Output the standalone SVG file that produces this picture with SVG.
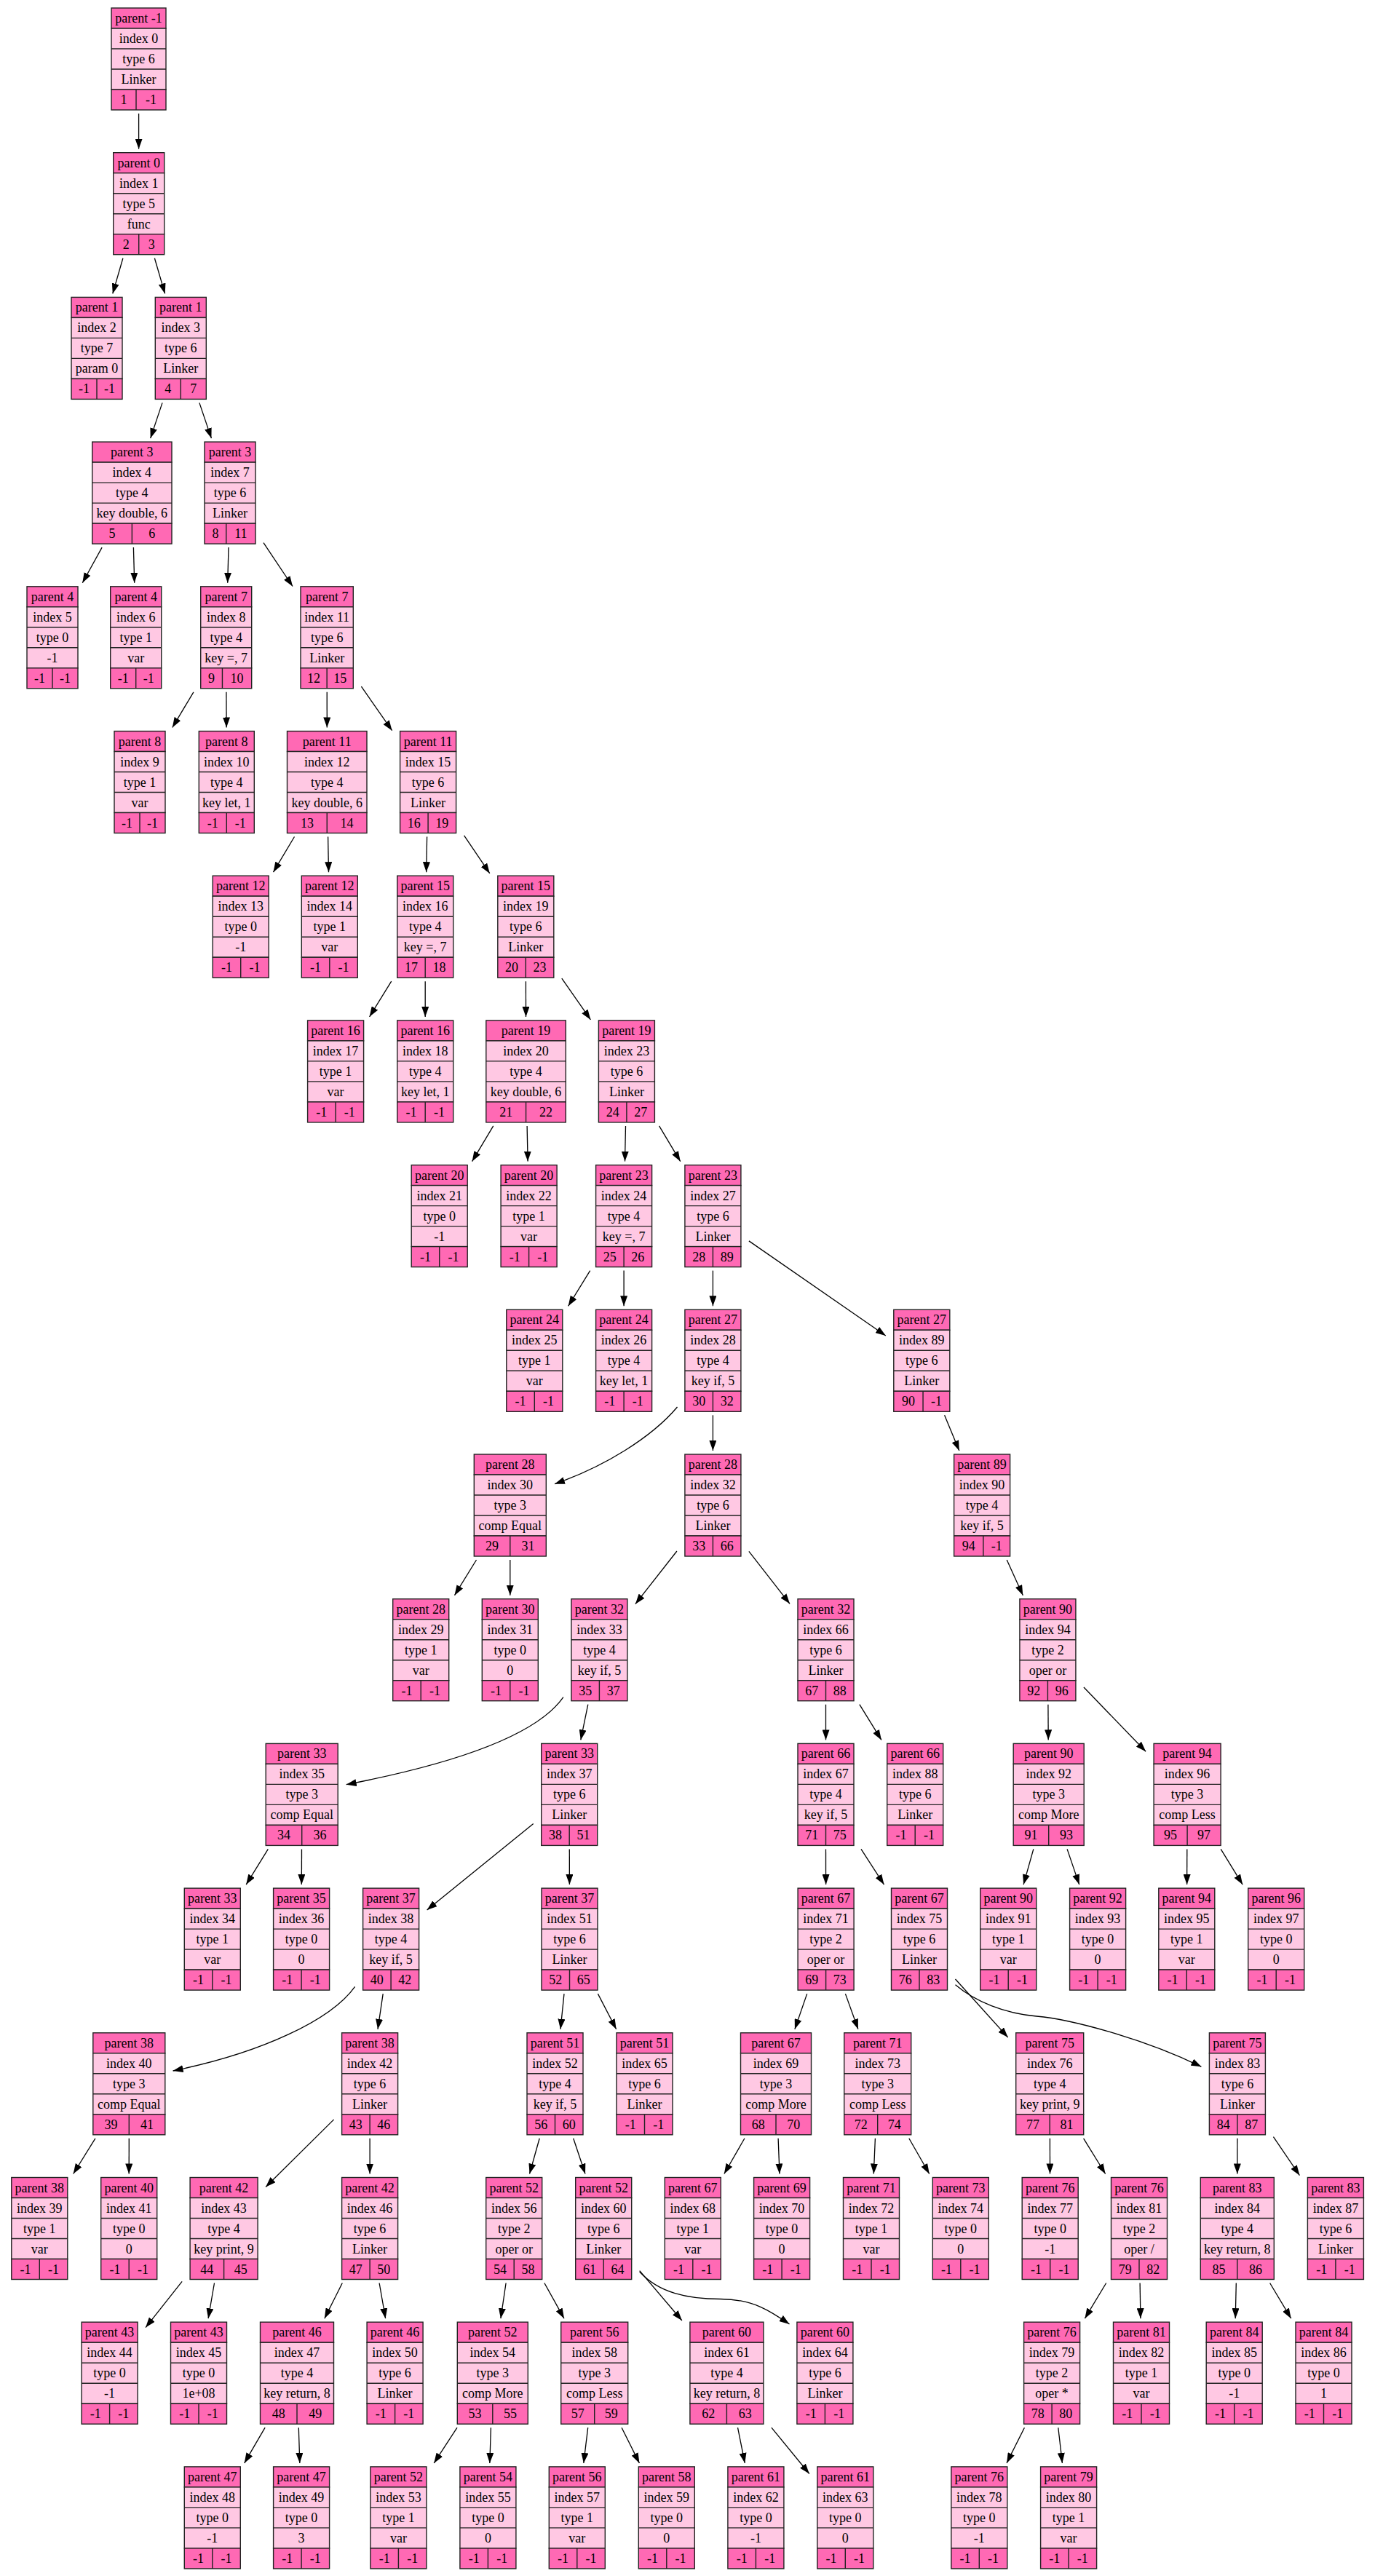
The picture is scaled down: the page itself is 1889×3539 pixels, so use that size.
<svg xmlns="http://www.w3.org/2000/svg" xmlns:xlink="http://www.w3.org/1999/xlink" width="1889" height="3539" viewBox="0 0 1889 3539">
<style>
.h{fill:#ff69b4;stroke:#222;stroke-width:1.4}
.m{fill:#ffc8e3;stroke:#222;stroke-width:1.4}
.s{fill:none;stroke:#222;stroke-width:1.4}
text{font-family:"Liberation Serif","Times New Roman",serif;font-size:18px;text-anchor:middle;fill:#000}
#edges path{fill:none;stroke:#000;stroke-width:1.3}
</style>
<defs>
<marker id="ah" viewBox="0 0 14 10" markerWidth="14" markerHeight="10" markerUnits="userSpaceOnUse" refX="14" refY="5" orient="auto"><path d="M0 0L14 5L0 10z" fill="#000"/></marker>
<!-- record frames: header, three body rows, split footer -->
<g id="f77"><rect class="h" width="77" height="28"/><rect class="m" y="28" width="77" height="84"/><rect class="h" y="112" width="77" height="28"/><path class="s" d="M0 56H77M0 84H77M38.5 112V140"/></g>
<g id="f77b"><rect class="h" width="77" height="28"/><rect class="m" y="28" width="77" height="84"/><rect class="h" y="112" width="77" height="28"/><path class="s" d="M0 56H77M0 84H77M40.25 112V140"/></g>
<g id="f70"><rect class="h" width="70" height="28"/><rect class="m" y="28" width="70" height="84"/><rect class="h" y="112" width="70" height="28"/><path class="s" d="M0 56H70M0 84H70M35 112V140"/></g>
<g id="f70b"><rect class="h" width="70" height="28"/><rect class="m" y="28" width="70" height="84"/><rect class="h" y="112" width="70" height="28"/><path class="s" d="M0 56H70M0 84H70M29.75 112V140"/></g>
<g id="f75"><rect class="h" width="75" height="28"/><rect class="m" y="28" width="75" height="84"/><rect class="h" y="112" width="75" height="28"/><path class="s" d="M0 56H75M0 84H75M34 112V140"/></g>
<g id="f723"><rect class="h" width="72.3" height="28"/><rect class="m" y="28" width="72.3" height="84"/><rect class="h" y="112" width="72.3" height="28"/><path class="s" d="M0 56H72.3M0 84H72.3M36.15 112V140"/></g>
<g id="f76"><rect class="h" width="76" height="28"/><rect class="m" y="28" width="76" height="84"/><rect class="h" y="112" width="76" height="28"/><path class="s" d="M0 56H76M0 84H76M38 112V140"/></g>
<g id="f1093"><rect class="h" width="109.3" height="28"/><rect class="m" y="28" width="109.3" height="84"/><rect class="h" y="112" width="109.3" height="28"/><path class="s" d="M0 56H109.3M0 84H109.3M54.65 112V140"/></g>
<g id="f1095"><rect class="h" width="109.5" height="28"/><rect class="m" y="28" width="109.5" height="84"/><rect class="h" y="112" width="109.5" height="28"/><path class="s" d="M0 56H109.5M0 84H109.5M54.75 112V140"/></g>
<g id="f99"><rect class="h" width="99" height="28"/><rect class="m" y="28" width="99" height="84"/><rect class="h" y="112" width="99" height="28"/><path class="s" d="M0 56H99M0 84H99M49.5 112V140"/></g>
<g id="f97"><rect class="h" width="97" height="28"/><rect class="m" y="28" width="97" height="84"/><rect class="h" y="112" width="97" height="28"/><path class="s" d="M0 56H97M0 84H97M48.5 112V140"/></g>
<g id="f92"><rect class="h" width="92" height="28"/><rect class="m" y="28" width="92" height="84"/><rect class="h" y="112" width="92" height="28"/><path class="s" d="M0 56H92M0 84H92M46 112V140"/></g>
<g id="f93"><rect class="h" width="93" height="28"/><rect class="m" y="28" width="93" height="84"/><rect class="h" y="112" width="93" height="28"/><path class="s" d="M0 56H93M0 84H93M46.5 112V140"/></g>
<g id="f101"><rect class="h" width="101" height="28"/><rect class="m" y="28" width="101" height="84"/><rect class="h" y="112" width="101" height="28"/><path class="s" d="M0 56H101M0 84H101M50.5 112V140"/></g>
</defs>
<rect width="1889" height="3539" fill="#fff"/>

<g id="edges">
<path marker-end="url(#ah)" d="M190.6 156L190.6 204.7"/>
<path marker-end="url(#ah)" d="M168.9 354.7L154.8 403.4"/>
<path marker-end="url(#ah)" d="M212.4 354.7L226.6 403.4"/>
<path marker-end="url(#ah)" d="M223 553.4L206.7 602.1"/>
<path marker-end="url(#ah)" d="M273.9 553.4L290.4 602.1"/>
<path marker-end="url(#ah)" d="M140.1 752.1L113.3 800.8"/>
<path marker-end="url(#ah)" d="M183.4 752.1L184.7 800.8"/>
<path marker-end="url(#ah)" d="M314 752.1L312.7 800.8"/>
<path marker-end="url(#ah)" d="M362 745.7L402 805.5"/>
<path marker-end="url(#ah)" d="M265.9 950.8L236.8 999.5"/>
<path marker-end="url(#ah)" d="M310.9 950.8L311.1 999.5"/>
<path marker-end="url(#ah)" d="M449.2 950.8L449.3 999.5"/>
<path marker-end="url(#ah)" d="M496.4 943.2L538.6 1003.7"/>
<path marker-end="url(#ah)" d="M404.5 1149.5L375.5 1198.2"/>
<path marker-end="url(#ah)" d="M450.6 1149.5L451.5 1198.2"/>
<path marker-end="url(#ah)" d="M586.6 1149.5L585.7 1198.2"/>
<path marker-end="url(#ah)" d="M637.6 1147.8L672.8 1199.9"/>
<path marker-end="url(#ah)" d="M537.7 1348.2L507.6 1396.9"/>
<path marker-end="url(#ah)" d="M584.2 1348.2L584.2 1396.9"/>
<path marker-end="url(#ah)" d="M722.4 1348.2L722.5 1396.9"/>
<path marker-end="url(#ah)" d="M771.8 1344.2L811.4 1400.9"/>
<path marker-end="url(#ah)" d="M677.7 1546.9L648.6 1595.6"/>
<path marker-end="url(#ah)" d="M724.1 1546.9L725.1 1595.6"/>
<path marker-end="url(#ah)" d="M859.5 1546.9L858.5 1595.6"/>
<path marker-end="url(#ah)" d="M905.6 1546.9L934.7 1595.6"/>
<path marker-end="url(#ah)" d="M810.7 1745.6L780.7 1794.3"/>
<path marker-end="url(#ah)" d="M857.1 1745.6L857.1 1794.3"/>
<path marker-end="url(#ah)" d="M979.4 1745.6L979.4 1794.3"/>
<path marker-end="url(#ah)" d="M1028.9 1704.9L1216.8 1835"/>
<path marker-end="url(#ah)" d="M930.5 1933C895 1975 830 2015 762 2038.7"/>
<path marker-end="url(#ah)" d="M979.4 1944.3L979.4 1993"/>
<path marker-end="url(#ah)" d="M1297.6 1944.3L1317.8 1993"/>
<path marker-end="url(#ah)" d="M654.5 2143L624.5 2191.7"/>
<path marker-end="url(#ah)" d="M700.8 2143L700.8 2191.7"/>
<path marker-end="url(#ah)" d="M929.9 2131L872.9 2203.7"/>
<path marker-end="url(#ah)" d="M1028.9 2131.4L1085 2203.3"/>
<path marker-end="url(#ah)" d="M1383.2 2143L1405.3 2191.7"/>
<path marker-end="url(#ah)" d="M773.9 2331.7C740 2380 640 2420 475.7 2451.7"/>
<path marker-end="url(#ah)" d="M807.8 2341.7L797.8 2390.4"/>
<path marker-end="url(#ah)" d="M1134.5 2341.7L1134.5 2390.4"/>
<path marker-end="url(#ah)" d="M1180.8 2341.7L1210.9 2390.4"/>
<path marker-end="url(#ah)" d="M1439.9 2341.7L1440.2 2390.4"/>
<path marker-end="url(#ah)" d="M1488.9 2318L1574.1 2406.3"/>
<path marker-end="url(#ah)" d="M368.3 2540.4L338.2 2589.1"/>
<path marker-end="url(#ah)" d="M414.5 2540.4L414.3 2589.1"/>
<path marker-end="url(#ah)" d="M732.7 2505.5L586.6 2624"/>
<path marker-end="url(#ah)" d="M782.3 2540.4L782.4 2589.1"/>
<path marker-end="url(#ah)" d="M1134.5 2540.4L1134.6 2589.1"/>
<path marker-end="url(#ah)" d="M1183 2540.4L1214.5 2589.1"/>
<path marker-end="url(#ah)" d="M1419.8 2540.4L1406.1 2589.1"/>
<path marker-end="url(#ah)" d="M1466.1 2540.4L1482.7 2589.1"/>
<path marker-end="url(#ah)" d="M1630.8 2540.4L1630.6 2589.1"/>
<path marker-end="url(#ah)" d="M1677.2 2540.4L1707.1 2589.1"/>
<path marker-end="url(#ah)" d="M487.6 2729.3C455 2775 360 2820 237.6 2845"/>
<path marker-end="url(#ah)" d="M526.2 2739.1L519 2787.8"/>
<path marker-end="url(#ah)" d="M775 2739.1L770 2787.8"/>
<path marker-end="url(#ah)" d="M821.4 2739.1L846.6 2787.8"/>
<path marker-end="url(#ah)" d="M1108.7 2739.1L1091.9 2787.8"/>
<path marker-end="url(#ah)" d="M1161.4 2739.1L1178.9 2787.8"/>
<path marker-end="url(#ah)" d="M1312.5 2719L1384.7 2799"/>
<path marker-end="url(#ah)" d="M1312.5 2726.7C1340 2750 1380 2766 1424 2770C1470 2774 1570 2800 1650.4 2839.3"/>
<path marker-end="url(#ah)" d="M130.9 2937.8L100.7 2986.5"/>
<path marker-end="url(#ah)" d="M177.3 2937.8L177.2 2986.5"/>
<path marker-end="url(#ah)" d="M458.6 2911.9L365.1 3004.5"/>
<path marker-end="url(#ah)" d="M508.1 2937.8L508.1 2986.5"/>
<path marker-end="url(#ah)" d="M741.2 2937.8L727.5 2986.5"/>
<path marker-end="url(#ah)" d="M787.7 2937.8L804 2986.5"/>
<path marker-end="url(#ah)" d="M1022.9 2937.8L994.9 2986.5"/>
<path marker-end="url(#ah)" d="M1069.1 2937.8L1071 2986.5"/>
<path marker-end="url(#ah)" d="M1202.4 2937.8L1200.3 2986.5"/>
<path marker-end="url(#ah)" d="M1248.8 2937.8L1276.7 2986.5"/>
<path marker-end="url(#ah)" d="M1442.4 2937.8L1442.5 2986.5"/>
<path marker-end="url(#ah)" d="M1488.6 2937.8L1518.6 2986.5"/>
<path marker-end="url(#ah)" d="M1699.9 2937.8L1699.8 2986.5"/>
<path marker-end="url(#ah)" d="M1749.4 2935.7L1785.4 2988.6"/>
<path marker-end="url(#ah)" d="M250.1 3134.3L200.1 3197.6"/>
<path marker-end="url(#ah)" d="M294.5 3136.5L286.1 3185.2"/>
<path marker-end="url(#ah)" d="M470.3 3136.5L445.8 3185.2"/>
<path marker-end="url(#ah)" d="M521.1 3136.5L529.6 3185.2"/>
<path marker-end="url(#ah)" d="M695.1 3136.5L687.9 3185.2"/>
<path marker-end="url(#ah)" d="M747.9 3136.5L775 3185.2"/>
<path marker-end="url(#ah)" d="M878.7 3119.6L936.9 3188"/>
<path marker-end="url(#ah)" d="M878.7 3121C905 3150 945 3158.5 990 3158.5C1035 3158.5 1060 3176 1084.5 3193"/>
<path marker-end="url(#ah)" d="M1519.7 3136.5L1490.4 3185.2"/>
<path marker-end="url(#ah)" d="M1566.1 3136.5L1566.9 3185.2"/>
<path marker-end="url(#ah)" d="M1698.3 3136.5L1697.2 3185.2"/>
<path marker-end="url(#ah)" d="M1744.6 3136.5L1773.7 3185.2"/>
<path marker-end="url(#ah)" d="M364.1 3335.2L335.7 3383.9"/>
<path marker-end="url(#ah)" d="M410.3 3335.2L411.8 3383.9"/>
<path marker-end="url(#ah)" d="M628 3335.2L596.2 3383.9"/>
<path marker-end="url(#ah)" d="M674.4 3335.2L672.8 3383.9"/>
<path marker-end="url(#ah)" d="M807.7 3335.2L801.8 3383.9"/>
<path marker-end="url(#ah)" d="M854.1 3335.2L878.4 3383.9"/>
<path marker-end="url(#ah)" d="M1013.5 3335.2L1023.3 3383.9"/>
<path marker-end="url(#ah)" d="M1059.9 3335.2L1111.8 3398.5"/>
<path marker-end="url(#ah)" d="M1407.4 3335.2L1383 3383.9"/>
<path marker-end="url(#ah)" d="M1453.8 3335.2L1459.4 3383.9"/>
</g>

<g id="nodes">
<g id="n0" transform="translate(153 11)"><use href="#f75"/><text x="37.5" y="20">parent -1</text><text x="37.5" y="48">index 0</text><text x="37.5" y="76">type 6</text><text x="37.5" y="104">Linker</text><text x="17" y="132">1</text><text x="54.5" y="132">-1</text></g>
<g id="n1" transform="translate(155.7 209.7)"><use href="#f70"/><text x="35" y="20">parent 0</text><text x="35" y="48">index 1</text><text x="35" y="76">type 5</text><text x="35" y="104">func</text><text x="17.5" y="132">2</text><text x="52.5" y="132">3</text></g>
<g id="n2" transform="translate(98 408.4)"><use href="#f70"/><text x="35" y="20">parent 1</text><text x="35" y="48">index 2</text><text x="35" y="76">type 7</text><text x="35" y="104">param 0</text><text x="17.5" y="132">-1</text><text x="52.5" y="132">-1</text></g>
<g id="n3" transform="translate(213.3 408.4)"><use href="#f70"/><text x="35" y="20">parent 1</text><text x="35" y="48">index 3</text><text x="35" y="76">type 6</text><text x="35" y="104">Linker</text><text x="17.5" y="132">4</text><text x="52.5" y="132">7</text></g>
<g id="n4" transform="translate(126.7 607.1)"><use href="#f1093"/><text x="54.65" y="20">parent 3</text><text x="54.65" y="48">index 4</text><text x="54.65" y="76">type 4</text><text x="54.65" y="104">key double, 6</text><text x="27.3" y="132">5</text><text x="82" y="132">6</text></g>
<g id="n7" transform="translate(281 607.1)"><use href="#f70b"/><text x="35" y="20">parent 3</text><text x="35" y="48">index 7</text><text x="35" y="76">type 6</text><text x="35" y="104">Linker</text><text x="14.9" y="132">8</text><text x="49.9" y="132">11</text></g>
<g id="n5" transform="translate(37 805.8)"><use href="#f70"/><text x="35" y="20">parent 4</text><text x="35" y="48">index 5</text><text x="35" y="76">type 0</text><text x="35" y="104">-1</text><text x="17.5" y="132">-1</text><text x="52.5" y="132">-1</text></g>
<g id="n6" transform="translate(151.7 805.8)"><use href="#f70"/><text x="35" y="20">parent 4</text><text x="35" y="48">index 6</text><text x="35" y="76">type 1</text><text x="35" y="104">var</text><text x="17.5" y="132">-1</text><text x="52.5" y="132">-1</text></g>
<g id="n8" transform="translate(275.7 805.8)"><use href="#f70b"/><text x="35" y="20">parent 7</text><text x="35" y="48">index 8</text><text x="35" y="76">type 4</text><text x="35" y="104">key =, 7</text><text x="14.9" y="132">9</text><text x="49.9" y="132">10</text></g>
<g id="n11" transform="translate(413 805.8)"><use href="#f723"/><text x="36.15" y="20">parent 7</text><text x="36.15" y="48">index 11</text><text x="36.15" y="76">type 6</text><text x="36.15" y="104">Linker</text><text x="18.1" y="132">12</text><text x="54.2" y="132">15</text></g>
<g id="n9" transform="translate(157 1004.5)"><use href="#f70"/><text x="35" y="20">parent 8</text><text x="35" y="48">index 9</text><text x="35" y="76">type 1</text><text x="35" y="104">var</text><text x="17.5" y="132">-1</text><text x="52.5" y="132">-1</text></g>
<g id="n10" transform="translate(273.3 1004.5)"><use href="#f76"/><text x="38" y="20">parent 8</text><text x="38" y="48">index 10</text><text x="38" y="76">type 4</text><text x="38" y="104">key let, 1</text><text x="19" y="132">-1</text><text x="57" y="132">-1</text></g>
<g id="n12" transform="translate(394.5 1004.5)"><use href="#f1095"/><text x="54.75" y="20">parent 11</text><text x="54.75" y="48">index 12</text><text x="54.75" y="76">type 4</text><text x="54.75" y="104">key double, 6</text><text x="27.4" y="132">13</text><text x="82.1" y="132">14</text></g>
<g id="n15" transform="translate(549.6 1004.5)"><use href="#f77"/><text x="38.5" y="20">parent 11</text><text x="38.5" y="48">index 15</text><text x="38.5" y="76">type 6</text><text x="38.5" y="104">Linker</text><text x="19.25" y="132">16</text><text x="57.75" y="132">19</text></g>
<g id="n13" transform="translate(292.2 1203.2)"><use href="#f77"/><text x="38.5" y="20">parent 12</text><text x="38.5" y="48">index 13</text><text x="38.5" y="76">type 0</text><text x="38.5" y="104">-1</text><text x="19.25" y="132">-1</text><text x="57.75" y="132">-1</text></g>
<g id="n14" transform="translate(414.3 1203.2)"><use href="#f77"/><text x="38.5" y="20">parent 12</text><text x="38.5" y="48">index 14</text><text x="38.5" y="76">type 1</text><text x="38.5" y="104">var</text><text x="19.25" y="132">-1</text><text x="57.75" y="132">-1</text></g>
<g id="n16" transform="translate(545.7 1203.2)"><use href="#f77"/><text x="38.5" y="20">parent 15</text><text x="38.5" y="48">index 16</text><text x="38.5" y="76">type 4</text><text x="38.5" y="104">key =, 7</text><text x="19.25" y="132">17</text><text x="57.75" y="132">18</text></g>
<g id="n19" transform="translate(683.8 1203.2)"><use href="#f77"/><text x="38.5" y="20">parent 15</text><text x="38.5" y="48">index 19</text><text x="38.5" y="76">type 6</text><text x="38.5" y="104">Linker</text><text x="19.25" y="132">20</text><text x="57.75" y="132">23</text></g>
<g id="n17" transform="translate(422.6 1401.9)"><use href="#f77"/><text x="38.5" y="20">parent 16</text><text x="38.5" y="48">index 17</text><text x="38.5" y="76">type 1</text><text x="38.5" y="104">var</text><text x="19.25" y="132">-1</text><text x="57.75" y="132">-1</text></g>
<g id="n18" transform="translate(545.7 1401.9)"><use href="#f77"/><text x="38.5" y="20">parent 16</text><text x="38.5" y="48">index 18</text><text x="38.5" y="76">type 4</text><text x="38.5" y="104">key let, 1</text><text x="19.25" y="132">-1</text><text x="57.75" y="132">-1</text></g>
<g id="n20" transform="translate(667.8 1401.9)"><use href="#f1095"/><text x="54.75" y="20">parent 19</text><text x="54.75" y="48">index 20</text><text x="54.75" y="76">type 4</text><text x="54.75" y="104">key double, 6</text><text x="27.4" y="132">21</text><text x="82.1" y="132">22</text></g>
<g id="n23" transform="translate(822.4 1401.9)"><use href="#f77"/><text x="38.5" y="20">parent 19</text><text x="38.5" y="48">index 23</text><text x="38.5" y="76">type 6</text><text x="38.5" y="104">Linker</text><text x="19.25" y="132">24</text><text x="57.75" y="132">27</text></g>
<g id="n21" transform="translate(565.2 1600.6)"><use href="#f77"/><text x="38.5" y="20">parent 20</text><text x="38.5" y="48">index 21</text><text x="38.5" y="76">type 0</text><text x="38.5" y="104">-1</text><text x="19.25" y="132">-1</text><text x="57.75" y="132">-1</text></g>
<g id="n22" transform="translate(688.1 1600.6)"><use href="#f77"/><text x="38.5" y="20">parent 20</text><text x="38.5" y="48">index 22</text><text x="38.5" y="76">type 1</text><text x="38.5" y="104">var</text><text x="19.25" y="132">-1</text><text x="57.75" y="132">-1</text></g>
<g id="n24" transform="translate(818.6 1600.6)"><use href="#f77"/><text x="38.5" y="20">parent 23</text><text x="38.5" y="48">index 24</text><text x="38.5" y="76">type 4</text><text x="38.5" y="104">key =, 7</text><text x="19.25" y="132">25</text><text x="57.75" y="132">26</text></g>
<g id="n27" transform="translate(940.9 1600.6)"><use href="#f77"/><text x="38.5" y="20">parent 23</text><text x="38.5" y="48">index 27</text><text x="38.5" y="76">type 6</text><text x="38.5" y="104">Linker</text><text x="19.25" y="132">28</text><text x="57.75" y="132">89</text></g>
<g id="n25" transform="translate(695.8 1799.3)"><use href="#f77"/><text x="38.5" y="20">parent 24</text><text x="38.5" y="48">index 25</text><text x="38.5" y="76">type 1</text><text x="38.5" y="104">var</text><text x="19.25" y="132">-1</text><text x="57.75" y="132">-1</text></g>
<g id="n26" transform="translate(818.6 1799.3)"><use href="#f77"/><text x="38.5" y="20">parent 24</text><text x="38.5" y="48">index 26</text><text x="38.5" y="76">type 4</text><text x="38.5" y="104">key let, 1</text><text x="19.25" y="132">-1</text><text x="57.75" y="132">-1</text></g>
<g id="n28" transform="translate(940.9 1799.3)"><use href="#f77"/><text x="38.5" y="20">parent 27</text><text x="38.5" y="48">index 28</text><text x="38.5" y="76">type 4</text><text x="38.5" y="104">key if, 5</text><text x="19.25" y="132">30</text><text x="57.75" y="132">32</text></g>
<g id="n89" transform="translate(1227.8 1799.3)"><use href="#f77b"/><text x="38.5" y="20">parent 27</text><text x="38.5" y="48">index 89</text><text x="38.5" y="76">type 6</text><text x="38.5" y="104">Linker</text><text x="20.1" y="132">90</text><text x="58.6" y="132">-1</text></g>
<g id="n30" transform="translate(651.3 1998)"><use href="#f99"/><text x="49.5" y="20">parent 28</text><text x="49.5" y="48">index 30</text><text x="49.5" y="76">type 3</text><text x="49.5" y="104">comp Equal</text><text x="24.75" y="132">29</text><text x="74.25" y="132">31</text></g>
<g id="n32" transform="translate(940.9 1998)"><use href="#f77"/><text x="38.5" y="20">parent 28</text><text x="38.5" y="48">index 32</text><text x="38.5" y="76">type 6</text><text x="38.5" y="104">Linker</text><text x="19.25" y="132">33</text><text x="57.75" y="132">66</text></g>
<g id="n90" transform="translate(1310.6 1998)"><use href="#f77b"/><text x="38.5" y="20">parent 89</text><text x="38.5" y="48">index 90</text><text x="38.5" y="76">type 4</text><text x="38.5" y="104">key if, 5</text><text x="20.1" y="132">94</text><text x="58.6" y="132">-1</text></g>
<g id="n29" transform="translate(539.7 2196.7)"><use href="#f77"/><text x="38.5" y="20">parent 28</text><text x="38.5" y="48">index 29</text><text x="38.5" y="76">type 1</text><text x="38.5" y="104">var</text><text x="19.25" y="132">-1</text><text x="57.75" y="132">-1</text></g>
<g id="n31" transform="translate(662.3 2196.7)"><use href="#f77"/><text x="38.5" y="20">parent 30</text><text x="38.5" y="48">index 31</text><text x="38.5" y="76">type 0</text><text x="38.5" y="104">0</text><text x="19.25" y="132">-1</text><text x="57.75" y="132">-1</text></g>
<g id="n33" transform="translate(784.9 2196.7)"><use href="#f77"/><text x="38.5" y="20">parent 32</text><text x="38.5" y="48">index 33</text><text x="38.5" y="76">type 4</text><text x="38.5" y="104">key if, 5</text><text x="19.25" y="132">35</text><text x="57.75" y="132">37</text></g>
<g id="n66" transform="translate(1096 2196.7)"><use href="#f77"/><text x="38.5" y="20">parent 32</text><text x="38.5" y="48">index 66</text><text x="38.5" y="76">type 6</text><text x="38.5" y="104">Linker</text><text x="19.25" y="132">67</text><text x="57.75" y="132">88</text></g>
<g id="n94" transform="translate(1400.9 2196.7)"><use href="#f77"/><text x="38.5" y="20">parent 90</text><text x="38.5" y="48">index 94</text><text x="38.5" y="76">type 2</text><text x="38.5" y="104">oper or</text><text x="19.25" y="132">92</text><text x="57.75" y="132">96</text></g>
<g id="n35" transform="translate(365.2 2395.4)"><use href="#f99"/><text x="49.5" y="20">parent 33</text><text x="49.5" y="48">index 35</text><text x="49.5" y="76">type 3</text><text x="49.5" y="104">comp Equal</text><text x="24.75" y="132">34</text><text x="74.25" y="132">36</text></g>
<g id="n37" transform="translate(743.7 2395.4)"><use href="#f77"/><text x="38.5" y="20">parent 33</text><text x="38.5" y="48">index 37</text><text x="38.5" y="76">type 6</text><text x="38.5" y="104">Linker</text><text x="19.25" y="132">38</text><text x="57.75" y="132">51</text></g>
<g id="n67" transform="translate(1096 2395.4)"><use href="#f77"/><text x="38.5" y="20">parent 66</text><text x="38.5" y="48">index 67</text><text x="38.5" y="76">type 4</text><text x="38.5" y="104">key if, 5</text><text x="19.25" y="132">71</text><text x="57.75" y="132">75</text></g>
<g id="n88" transform="translate(1218.7 2395.4)"><use href="#f77"/><text x="38.5" y="20">parent 66</text><text x="38.5" y="48">index 88</text><text x="38.5" y="76">type 6</text><text x="38.5" y="104">Linker</text><text x="19.25" y="132">-1</text><text x="57.75" y="132">-1</text></g>
<g id="n92" transform="translate(1392.2 2395.4)"><use href="#f97"/><text x="48.5" y="20">parent 90</text><text x="48.5" y="48">index 92</text><text x="48.5" y="76">type 3</text><text x="48.5" y="104">comp More</text><text x="24.25" y="132">91</text><text x="72.75" y="132">93</text></g>
<g id="n96" transform="translate(1585.1 2395.4)"><use href="#f92"/><text x="46" y="20">parent 94</text><text x="46" y="48">index 96</text><text x="46" y="76">type 3</text><text x="46" y="104">comp Less</text><text x="23" y="132">95</text><text x="69" y="132">97</text></g>
<g id="n34" transform="translate(253.3 2594.1)"><use href="#f77"/><text x="38.5" y="20">parent 33</text><text x="38.5" y="48">index 34</text><text x="38.5" y="76">type 1</text><text x="38.5" y="104">var</text><text x="19.25" y="132">-1</text><text x="57.75" y="132">-1</text></g>
<g id="n36" transform="translate(375.6 2594.1)"><use href="#f77"/><text x="38.5" y="20">parent 35</text><text x="38.5" y="48">index 36</text><text x="38.5" y="76">type 0</text><text x="38.5" y="104">0</text><text x="19.25" y="132">-1</text><text x="57.75" y="132">-1</text></g>
<g id="n38" transform="translate(498.6 2594.1)"><use href="#f77"/><text x="38.5" y="20">parent 37</text><text x="38.5" y="48">index 38</text><text x="38.5" y="76">type 4</text><text x="38.5" y="104">key if, 5</text><text x="19.25" y="132">40</text><text x="57.75" y="132">42</text></g>
<g id="n51" transform="translate(744 2594.1)"><use href="#f77"/><text x="38.5" y="20">parent 37</text><text x="38.5" y="48">index 51</text><text x="38.5" y="76">type 6</text><text x="38.5" y="104">Linker</text><text x="19.25" y="132">52</text><text x="57.75" y="132">65</text></g>
<g id="n71" transform="translate(1096.1 2594.1)"><use href="#f77"/><text x="38.5" y="20">parent 67</text><text x="38.5" y="48">index 71</text><text x="38.5" y="76">type 2</text><text x="38.5" y="104">oper or</text><text x="19.25" y="132">69</text><text x="57.75" y="132">73</text></g>
<g id="n75" transform="translate(1224.5 2594.1)"><use href="#f77"/><text x="38.5" y="20">parent 67</text><text x="38.5" y="48">index 75</text><text x="38.5" y="76">type 6</text><text x="38.5" y="104">Linker</text><text x="19.25" y="132">76</text><text x="57.75" y="132">83</text></g>
<g id="n91" transform="translate(1346.7 2594.1)"><use href="#f77"/><text x="38.5" y="20">parent 90</text><text x="38.5" y="48">index 91</text><text x="38.5" y="76">type 1</text><text x="38.5" y="104">var</text><text x="19.25" y="132">-1</text><text x="57.75" y="132">-1</text></g>
<g id="n93" transform="translate(1469.6 2594.1)"><use href="#f77"/><text x="38.5" y="20">parent 92</text><text x="38.5" y="48">index 93</text><text x="38.5" y="76">type 0</text><text x="38.5" y="104">0</text><text x="19.25" y="132">-1</text><text x="57.75" y="132">-1</text></g>
<g id="n95" transform="translate(1591.8 2594.1)"><use href="#f77"/><text x="38.5" y="20">parent 94</text><text x="38.5" y="48">index 95</text><text x="38.5" y="76">type 1</text><text x="38.5" y="104">var</text><text x="19.25" y="132">-1</text><text x="57.75" y="132">-1</text></g>
<g id="n97" transform="translate(1714.7 2594.1)"><use href="#f77"/><text x="38.5" y="20">parent 96</text><text x="38.5" y="48">index 97</text><text x="38.5" y="76">type 0</text><text x="38.5" y="104">0</text><text x="19.25" y="132">-1</text><text x="57.75" y="132">-1</text></g>
<g id="n40" transform="translate(127.8 2792.8)"><use href="#f99"/><text x="49.5" y="20">parent 38</text><text x="49.5" y="48">index 40</text><text x="49.5" y="76">type 3</text><text x="49.5" y="104">comp Equal</text><text x="24.75" y="132">39</text><text x="74.25" y="132">41</text></g>
<g id="n42" transform="translate(469.6 2792.8)"><use href="#f77"/><text x="38.5" y="20">parent 38</text><text x="38.5" y="48">index 42</text><text x="38.5" y="76">type 6</text><text x="38.5" y="104">Linker</text><text x="19.25" y="132">43</text><text x="57.75" y="132">46</text></g>
<g id="n52" transform="translate(724 2792.8)"><use href="#f77"/><text x="38.5" y="20">parent 51</text><text x="38.5" y="48">index 52</text><text x="38.5" y="76">type 4</text><text x="38.5" y="104">key if, 5</text><text x="19.25" y="132">56</text><text x="57.75" y="132">60</text></g>
<g id="n65" transform="translate(847 2792.8)"><use href="#f77"/><text x="38.5" y="20">parent 51</text><text x="38.5" y="48">index 65</text><text x="38.5" y="76">type 6</text><text x="38.5" y="104">Linker</text><text x="19.25" y="132">-1</text><text x="57.75" y="132">-1</text></g>
<g id="n69" transform="translate(1017.5 2792.8)"><use href="#f97"/><text x="48.5" y="20">parent 67</text><text x="48.5" y="48">index 69</text><text x="48.5" y="76">type 3</text><text x="48.5" y="104">comp More</text><text x="24.25" y="132">68</text><text x="72.75" y="132">70</text></g>
<g id="n73" transform="translate(1159.7 2792.8)"><use href="#f92"/><text x="46" y="20">parent 71</text><text x="46" y="48">index 73</text><text x="46" y="76">type 3</text><text x="46" y="104">comp Less</text><text x="23" y="132">72</text><text x="69" y="132">74</text></g>
<g id="n76" transform="translate(1395.7 2792.8)"><use href="#f93"/><text x="46.5" y="20">parent 75</text><text x="46.5" y="48">index 76</text><text x="46.5" y="76">type 4</text><text x="46.5" y="104">key print, 9</text><text x="23.25" y="132">77</text><text x="69.75" y="132">81</text></g>
<g id="n83" transform="translate(1661.4 2792.8)"><use href="#f77"/><text x="38.5" y="20">parent 75</text><text x="38.5" y="48">index 83</text><text x="38.5" y="76">type 6</text><text x="38.5" y="104">Linker</text><text x="19.25" y="132">84</text><text x="57.75" y="132">87</text></g>
<g id="n39" transform="translate(15.8 2991.5)"><use href="#f77"/><text x="38.5" y="20">parent 38</text><text x="38.5" y="48">index 39</text><text x="38.5" y="76">type 1</text><text x="38.5" y="104">var</text><text x="19.25" y="132">-1</text><text x="57.75" y="132">-1</text></g>
<g id="n41" transform="translate(138.7 2991.5)"><use href="#f77"/><text x="38.5" y="20">parent 40</text><text x="38.5" y="48">index 41</text><text x="38.5" y="76">type 0</text><text x="38.5" y="104">0</text><text x="19.25" y="132">-1</text><text x="57.75" y="132">-1</text></g>
<g id="n43" transform="translate(261.1 2991.5)"><use href="#f93"/><text x="46.5" y="20">parent 42</text><text x="46.5" y="48">index 43</text><text x="46.5" y="76">type 4</text><text x="46.5" y="104">key print, 9</text><text x="23.25" y="132">44</text><text x="69.75" y="132">45</text></g>
<g id="n46" transform="translate(469.6 2991.5)"><use href="#f77"/><text x="38.5" y="20">parent 42</text><text x="38.5" y="48">index 46</text><text x="38.5" y="76">type 6</text><text x="38.5" y="104">Linker</text><text x="19.25" y="132">47</text><text x="57.75" y="132">50</text></g>
<g id="n56" transform="translate(667.7 2991.5)"><use href="#f77"/><text x="38.5" y="20">parent 52</text><text x="38.5" y="48">index 56</text><text x="38.5" y="76">type 2</text><text x="38.5" y="104">oper or</text><text x="19.25" y="132">54</text><text x="57.75" y="132">58</text></g>
<g id="n60" transform="translate(790.7 2991.5)"><use href="#f77"/><text x="38.5" y="20">parent 52</text><text x="38.5" y="48">index 60</text><text x="38.5" y="76">type 6</text><text x="38.5" y="104">Linker</text><text x="19.25" y="132">61</text><text x="57.75" y="132">64</text></g>
<g id="n68" transform="translate(913.3 2991.5)"><use href="#f77"/><text x="38.5" y="20">parent 67</text><text x="38.5" y="48">index 68</text><text x="38.5" y="76">type 1</text><text x="38.5" y="104">var</text><text x="19.25" y="132">-1</text><text x="57.75" y="132">-1</text></g>
<g id="n70" transform="translate(1035.6 2991.5)"><use href="#f77"/><text x="38.5" y="20">parent 69</text><text x="38.5" y="48">index 70</text><text x="38.5" y="76">type 0</text><text x="38.5" y="104">0</text><text x="19.25" y="132">-1</text><text x="57.75" y="132">-1</text></g>
<g id="n72" transform="translate(1158.5 2991.5)"><use href="#f77"/><text x="38.5" y="20">parent 71</text><text x="38.5" y="48">index 72</text><text x="38.5" y="76">type 1</text><text x="38.5" y="104">var</text><text x="19.25" y="132">-1</text><text x="57.75" y="132">-1</text></g>
<g id="n74" transform="translate(1281.3 2991.5)"><use href="#f77"/><text x="38.5" y="20">parent 73</text><text x="38.5" y="48">index 74</text><text x="38.5" y="76">type 0</text><text x="38.5" y="104">0</text><text x="19.25" y="132">-1</text><text x="57.75" y="132">-1</text></g>
<g id="n77" transform="translate(1404.2 2991.5)"><use href="#f77"/><text x="38.5" y="20">parent 76</text><text x="38.5" y="48">index 77</text><text x="38.5" y="76">type 0</text><text x="38.5" y="104">-1</text><text x="19.25" y="132">-1</text><text x="57.75" y="132">-1</text></g>
<g id="n81" transform="translate(1526.5 2991.5)"><use href="#f77"/><text x="38.5" y="20">parent 76</text><text x="38.5" y="48">index 81</text><text x="38.5" y="76">type 2</text><text x="38.5" y="104">oper /</text><text x="19.25" y="132">79</text><text x="57.75" y="132">82</text></g>
<g id="n84" transform="translate(1649.3 2991.5)"><use href="#f101"/><text x="50.5" y="20">parent 83</text><text x="50.5" y="48">index 84</text><text x="50.5" y="76">type 4</text><text x="50.5" y="104">key return, 8</text><text x="25.25" y="132">85</text><text x="75.75" y="132">86</text></g>
<g id="n87" transform="translate(1796.4 2991.5)"><use href="#f77"/><text x="38.5" y="20">parent 83</text><text x="38.5" y="48">index 87</text><text x="38.5" y="76">type 6</text><text x="38.5" y="104">Linker</text><text x="19.25" y="132">-1</text><text x="57.75" y="132">-1</text></g>
<g id="n44" transform="translate(112.1 3190.2)"><use href="#f77"/><text x="38.5" y="20">parent 43</text><text x="38.5" y="48">index 44</text><text x="38.5" y="76">type 0</text><text x="38.5" y="104">-1</text><text x="19.25" y="132">-1</text><text x="57.75" y="132">-1</text></g>
<g id="n45" transform="translate(234.5 3190.2)"><use href="#f77"/><text x="38.5" y="20">parent 43</text><text x="38.5" y="48">index 45</text><text x="38.5" y="76">type 0</text><text x="38.5" y="104">1e+08</text><text x="19.25" y="132">-1</text><text x="57.75" y="132">-1</text></g>
<g id="n47" transform="translate(357.5 3190.2)"><use href="#f101"/><text x="50.5" y="20">parent 46</text><text x="50.5" y="48">index 47</text><text x="50.5" y="76">type 4</text><text x="50.5" y="104">key return, 8</text><text x="25.25" y="132">48</text><text x="75.75" y="132">49</text></g>
<g id="n50" transform="translate(504.1 3190.2)"><use href="#f77"/><text x="38.5" y="20">parent 46</text><text x="38.5" y="48">index 50</text><text x="38.5" y="76">type 6</text><text x="38.5" y="104">Linker</text><text x="19.25" y="132">-1</text><text x="57.75" y="132">-1</text></g>
<g id="n54" transform="translate(628.3 3190.2)"><use href="#f97"/><text x="48.5" y="20">parent 52</text><text x="48.5" y="48">index 54</text><text x="48.5" y="76">type 3</text><text x="48.5" y="104">comp More</text><text x="24.25" y="132">53</text><text x="72.75" y="132">55</text></g>
<g id="n58" transform="translate(770.7 3190.2)"><use href="#f92"/><text x="46" y="20">parent 56</text><text x="46" y="48">index 58</text><text x="46" y="76">type 3</text><text x="46" y="104">comp Less</text><text x="23" y="132">57</text><text x="69" y="132">59</text></g>
<g id="n61" transform="translate(947.9 3190.2)"><use href="#f101"/><text x="50.5" y="20">parent 60</text><text x="50.5" y="48">index 61</text><text x="50.5" y="76">type 4</text><text x="50.5" y="104">key return, 8</text><text x="25.25" y="132">62</text><text x="75.75" y="132">63</text></g>
<g id="n64" transform="translate(1094.9 3190.2)"><use href="#f77"/><text x="38.5" y="20">parent 60</text><text x="38.5" y="48">index 64</text><text x="38.5" y="76">type 6</text><text x="38.5" y="104">Linker</text><text x="19.25" y="132">-1</text><text x="57.75" y="132">-1</text></g>
<g id="n79" transform="translate(1406.6 3190.2)"><use href="#f77"/><text x="38.5" y="20">parent 76</text><text x="38.5" y="48">index 79</text><text x="38.5" y="76">type 2</text><text x="38.5" y="104">oper *</text><text x="19.25" y="132">78</text><text x="57.75" y="132">80</text></g>
<g id="n82" transform="translate(1529.5 3190.2)"><use href="#f77"/><text x="38.5" y="20">parent 81</text><text x="38.5" y="48">index 82</text><text x="38.5" y="76">type 1</text><text x="38.5" y="104">var</text><text x="19.25" y="132">-1</text><text x="57.75" y="132">-1</text></g>
<g id="n85" transform="translate(1657.2 3190.2)"><use href="#f77"/><text x="38.5" y="20">parent 84</text><text x="38.5" y="48">index 85</text><text x="38.5" y="76">type 0</text><text x="38.5" y="104">-1</text><text x="19.25" y="132">-1</text><text x="57.75" y="132">-1</text></g>
<g id="n86" transform="translate(1780 3190.2)"><use href="#f77"/><text x="38.5" y="20">parent 84</text><text x="38.5" y="48">index 86</text><text x="38.5" y="76">type 0</text><text x="38.5" y="104">1</text><text x="19.25" y="132">-1</text><text x="57.75" y="132">-1</text></g>
<g id="n48" transform="translate(253.3 3388.9)"><use href="#f77"/><text x="38.5" y="20">parent 47</text><text x="38.5" y="48">index 48</text><text x="38.5" y="76">type 0</text><text x="38.5" y="104">-1</text><text x="19.25" y="132">-1</text><text x="57.75" y="132">-1</text></g>
<g id="n49" transform="translate(375.6 3388.9)"><use href="#f77"/><text x="38.5" y="20">parent 47</text><text x="38.5" y="48">index 49</text><text x="38.5" y="76">type 0</text><text x="38.5" y="104">3</text><text x="19.25" y="132">-1</text><text x="57.75" y="132">-1</text></g>
<g id="n53" transform="translate(508.9 3388.9)"><use href="#f77"/><text x="38.5" y="20">parent 52</text><text x="38.5" y="48">index 53</text><text x="38.5" y="76">type 1</text><text x="38.5" y="104">var</text><text x="19.25" y="132">-1</text><text x="57.75" y="132">-1</text></g>
<g id="n55" transform="translate(631.9 3388.9)"><use href="#f77"/><text x="38.5" y="20">parent 54</text><text x="38.5" y="48">index 55</text><text x="38.5" y="76">type 0</text><text x="38.5" y="104">0</text><text x="19.25" y="132">-1</text><text x="57.75" y="132">-1</text></g>
<g id="n57" transform="translate(754.3 3388.9)"><use href="#f77"/><text x="38.5" y="20">parent 56</text><text x="38.5" y="48">index 57</text><text x="38.5" y="76">type 1</text><text x="38.5" y="104">var</text><text x="19.25" y="132">-1</text><text x="57.75" y="132">-1</text></g>
<g id="n59" transform="translate(877.3 3388.9)"><use href="#f77"/><text x="38.5" y="20">parent 58</text><text x="38.5" y="48">index 59</text><text x="38.5" y="76">type 0</text><text x="38.5" y="104">0</text><text x="19.25" y="132">-1</text><text x="57.75" y="132">-1</text></g>
<g id="n62" transform="translate(999.9 3388.9)"><use href="#f77"/><text x="38.5" y="20">parent 61</text><text x="38.5" y="48">index 62</text><text x="38.5" y="76">type 0</text><text x="38.5" y="104">-1</text><text x="19.25" y="132">-1</text><text x="57.75" y="132">-1</text></g>
<g id="n63" transform="translate(1122.8 3388.9)"><use href="#f77"/><text x="38.5" y="20">parent 61</text><text x="38.5" y="48">index 63</text><text x="38.5" y="76">type 0</text><text x="38.5" y="104">0</text><text x="19.25" y="132">-1</text><text x="57.75" y="132">-1</text></g>
<g id="n78" transform="translate(1306.8 3388.9)"><use href="#f77"/><text x="38.5" y="20">parent 76</text><text x="38.5" y="48">index 78</text><text x="38.5" y="76">type 0</text><text x="38.5" y="104">-1</text><text x="19.25" y="132">-1</text><text x="57.75" y="132">-1</text></g>
<g id="n80" transform="translate(1429.6 3388.9)"><use href="#f77"/><text x="38.5" y="20">parent 79</text><text x="38.5" y="48">index 80</text><text x="38.5" y="76">type 1</text><text x="38.5" y="104">var</text><text x="19.25" y="132">-1</text><text x="57.75" y="132">-1</text></g>
</g>
</svg>
